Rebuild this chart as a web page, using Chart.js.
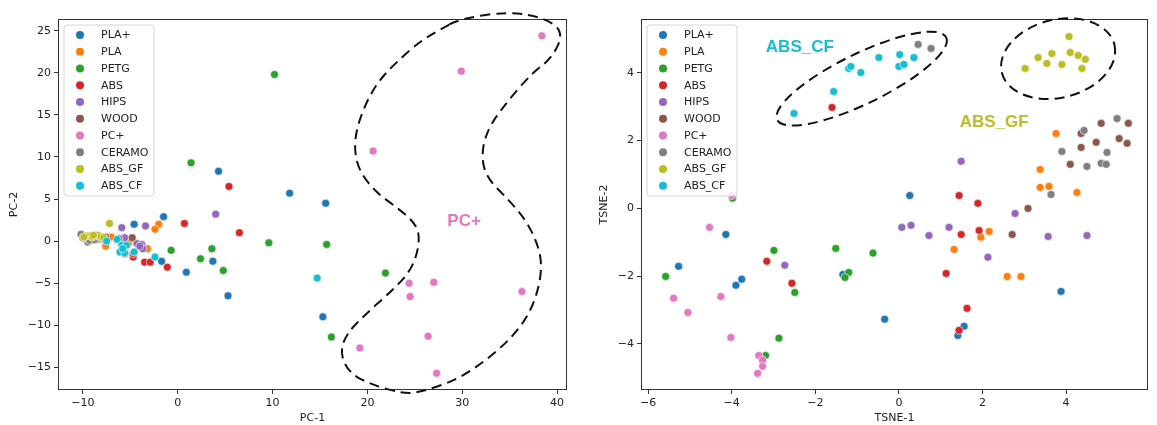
<!DOCTYPE html>
<html>
<head>
<meta charset="utf-8">
<script src="https://cdn.jsdelivr.net/npm/chart.js@4.4.0/dist/chart.umd.min.js"></script>
<style>
  body { margin: 0; background: #fff; }
  #wrap { position: relative; width: 1157px; height: 425px; }
  .box { position: absolute; top: 0; height: 425px; }
</style>
</head>
<body>
<div id="wrap">
  <div class="box" style="left:0;width:575px"><canvas id="pcaChart"></canvas></div>
  <div class="box" style="left:580px;width:577px"><canvas id="tsneChart"></canvas></div>
</div>
<script>
const materials = ['PLA+', 'PLA', 'PETG', 'ABS', 'HIPS', 'WOOD', 'PC+', 'CERAMO', 'ABS_GF', 'ABS_CF'];
const colors = ['#1f77b4', '#ff7f0e', '#2ca02c', '#d62728', '#9467bd', '#8c564b', '#e377c2', '#7f7f7f', '#bcbd22', '#17becf'];

const pcaTicksX = [-10, 0, 10, 20, 30, 40];
const pcaTicksY = [-15, -10, -5, 0, 5, 10, 15, 20, 25];
const tsneTicksX = [-6, -4, -2, 0, 2, 4];
const tsneTicksY = [-4, -2, 0, 2, 4];

// PCA scores [PC-1, PC-2]
const pcaPLAplus = [[4.3, 8.3], [11.8, 5.7], [15.6, 4.5], [15.3, -9.0], [-1.5, 2.9], [-4.6, 2.0], [-1.7, -2.4], [0.9, -3.7], [3.7, -2.4], [5.3, -6.5]];
const pcaPLA = [[-2.0, 2.0], [-2.4, 1.4], [-7.6, -0.6], [-3.2, -0.9], [-7.0, 0.5], [-9.3, 0.3], [-8.6, 0.4], [-5.2, -0.3], [-9.9, 0.6], [-8.0, 0.2]];
const pcaPETG = [[10.2, 19.8], [1.4, 9.3], [-0.7, -1.1], [3.6, -0.9], [2.4, -2.1], [4.8, -3.5], [9.6, -0.2], [15.7, -0.4], [21.9, -3.8], [16.2, -11.4]];
const pcaABS = [[5.4, 6.5], [0.7, 2.1], [6.5, 1.0], [-1.1, -3.1], [-3.5, -2.5], [-2.9, -2.5], [-4.7, -1.9], [-5.6, -1.5], [-4.7, -1.5], [-9.5, 0.3]];
const pcaHIPS = [[4.0, 3.2], [-5.9, 1.6], [-3.4, 1.8], [-5.6, 0.4], [-4.3, -0.3], [-3.8, -0.4], [-3.7, -0.9], [-4.0, -0.6], [-9.0, 0.3], [-6.2, 0.3]];
const pcaWOOD = [[-4.8, 0.4], [-10.0, 0.5], [-9.3, 0.3], [-9.7, 0.6], [-8.8, 0.5], [-8.2, 0.4], [-7.6, 0.5], [-9.1, 0.2], [-8.5, 0.3], [-9.5, 0.4]];
const pcaPCplus = [[38.4, 24.4], [29.9, 20.2], [20.6, 10.7], [24.4, -5.0], [27.0, -4.9], [24.5, -6.6], [36.3, -6.0], [26.4, -11.3], [19.2, -12.7], [27.3, -15.7]];
const pcaCERAMO = [[-10.2, 0.8], [-9.5, -0.1], [-9.8, 0.3], [-9.0, 0.1], [-8.5, 0.2], [-8.0, 0.3], [-9.3, 0.1], [-8.8, 0.2], [-10.0, 0.4], [-7.7, 0.2]];
const pcaABSGF = [[-7.2, 2.1], [-9.6, 0.6], [-9.3, 0.6], [-9.0, 0.5], [-8.7, 0.6], [-8.4, 0.7], [-8.1, 0.5], [-7.8, 0.4], [-9.9, 0.5], [-8.9, 0.7]];
const pcaABSCF = [[14.7, -4.4], [-2.4, -1.9], [-7.5, 0.0], [-6.4, 0.2], [-5.9, -0.5], [-5.4, -0.5], [-6.1, -1.3], [-5.6, -1.4], [-4.6, -1.3], [-5.8, -0.9]];

// t-SNE embedding [TSNE-1, TSNE-2]
const tsnePLAplus = [[0.26, 0.38], [-0.34, -3.27], [1.56, -3.48], [1.41, -3.75], [3.88, -2.45], [-4.14, -0.77], [-5.27, -1.71], [-3.90, -2.27], [-3.76, -2.09], [-1.34, -1.95]];
const tsnePLA = [[3.76, 2.21], [3.38, 1.15], [3.38, 0.62], [3.59, 0.65], [4.26, 0.47], [2.16, -0.68], [1.96, -0.85], [1.32, -1.21], [2.59, -2.01], [2.92, -2.01]];
const tsnePETG = [[-3.98, 0.30], [-5.58, -2.01], [-2.99, -1.24], [-2.49, -2.48], [-2.87, -3.83], [-3.19, -4.34], [-1.51, -1.18], [-1.20, -1.89], [-1.29, -2.04], [-0.62, -1.32]];
const tsneABS = [[-1.60, 2.98], [1.44, 0.38], [1.89, 0.15], [1.49, -0.77], [1.92, -0.65], [1.13, -1.92], [1.63, -2.95], [1.44, -3.60], [-3.16, -1.56], [-2.56, -2.21]];
const tsneHIPS = [[1.49, 1.39], [2.78, -0.15], [0.07, -0.56], [0.29, -0.50], [0.72, -0.80], [1.20, -0.56], [3.57, -0.83], [4.50, -0.80], [2.13, -1.44], [-2.73, -1.68]];
const tsneWOOD = [[4.84, 2.51], [5.49, 2.51], [4.36, 2.21], [4.72, 1.95], [5.27, 2.06], [5.46, 1.92], [4.36, 1.80], [4.10, 1.30], [3.09, 0.0], [2.71, -0.77]];
const tsnePCplus = [[-4.0, 0.38], [-4.53, -0.56], [-5.39, -2.65], [-5.05, -3.07], [-4.26, -2.60], [-4.02, -3.81], [-3.35, -4.34], [-3.26, -4.48], [-3.26, -4.66], [-3.38, -4.87]];
const tsneCERAMO = [[0.46, 4.84], [0.77, 4.72], [4.43, 2.30], [5.22, 2.65], [3.90, 1.68], [4.98, 1.65], [4.50, 1.24], [4.84, 1.33], [4.96, 1.30], [3.64, 0.41]];
const tsneABSGF = [[3.02, 4.13], [3.33, 4.45], [3.54, 4.28], [3.66, 4.57], [3.90, 4.25], [4.07, 5.07], [4.10, 4.60], [4.29, 4.51], [4.46, 4.40], [4.38, 4.13]];
const tsneABSCF = [[-2.51, 2.80], [-1.56, 3.45], [-1.20, 4.13], [-1.15, 4.19], [-0.91, 4.01], [-0.48, 4.45], [0.02, 4.54], [0.0, 4.19], [0.12, 4.25], [0.36, 4.45]];

// dashed outline round the PC+ group (data coords)
const pcOutline = [[29.7, 26.4], [34.9, 27.3], [38.8, 26.5], [40.7, 24.8], [39.5, 21.8], [37.4, 20.0], [34.9, 16.8], [32.8, 13.6], [32.0, 10.5], [32.5, 7.6],
  [34.9, 4.9], [36.7, 2.5], [37.9, -0.2], [38.4, -2.6], [38.1, -5.5], [37.1, -8.6], [35.3, -11.4], [32.5, -14.2], [29.4, -16.5], [25.5, -18.0],
  [23.7, -18.1], [20.5, -17.1], [18.1, -15.7], [17.1, -13.3], [17.8, -11.0], [19.9, -8.6], [22.3, -6.2], [24.4, -3.8], [25.3, -1.4], [25.5, 1.0],
  [24.7, 2.5], [23.1, 4.0], [20.9, 5.8], [19.2, 8.2], [18.6, 10.8], [18.9, 13.6], [20.0, 16.8], [21.3, 19.2], [23.1, 21.3], [25.5, 23.7], [27.6, 25.1]];

const FONT = 'DejaVu Sans';
const minus = v => String(v).replace('-', '\u2212');

function makeDatasets(series) {
  return series.map((pts, i) => ({
    label: materials[i],
    data: pts.map(p => ({ x: p[0], y: p[1] })),
    backgroundColor: colors[i],
    borderColor: '#ffffff',
    borderWidth: 0.6,
    pointRadius: 4,
    pointHoverRadius: 4,
    order: series.length - i
  }));
}

function axis(title, ticks, min, max, size, titlePad, isY) {
  return {
    type: 'linear', min: min, max: max,
    afterBuildTicks: a => { a.ticks = ticks.map(v => ({ value: v })); },
    afterFit: a => { if (isY) a.width = size; else a.height = size; },
    grid: { display: true, drawOnChartArea: false, drawTicks: true, tickLength: 4, tickColor: '#333', color: '#333' },
    border: { display: false },
    ticks: { color: '#222', font: { family: FONT, size: 11 }, padding: 3, callback: v => minus(v) },
    title: { display: true, text: title, color: '#222', font: { family: FONT, size: 11 }, padding: { top: titlePad, bottom: 0 } }
  };
}

// frame + legend drawn inside plot area
const framePlugin = {
  id: 'frameLegend',
  afterDraw(chart) {
    const ctx = chart.ctx, a = chart.chartArea;
    ctx.save();
    ctx.strokeStyle = '#333';
    ctx.lineWidth = 1;
    ctx.strokeRect(a.left + 0.5, a.top + 0.5, a.right - a.left - 1, a.bottom - a.top - 1);

    const bx = a.left + 6, by = a.top + 6, bw = 90, bh = 171, r = 3;
    ctx.beginPath();
    ctx.moveTo(bx + r, by);
    ctx.arcTo(bx + bw, by, bx + bw, by + bh, r);
    ctx.arcTo(bx + bw, by + bh, bx, by + bh, r);
    ctx.arcTo(bx, by + bh, bx, by, r);
    ctx.arcTo(bx, by, bx + bw, by, r);
    ctx.closePath();
    ctx.fillStyle = 'rgba(255,255,255,0.8)';
    ctx.fill();
    ctx.strokeStyle = '#d6d6d6';
    ctx.stroke();

    ctx.font = '11px "' + FONT + '"';
    ctx.textBaseline = 'middle';
    ctx.textAlign = 'left';
    chart.data.datasets.forEach((ds, i) => {
      const y = by + 10 + i * 16.75;
      ctx.beginPath();
      ctx.arc(bx + 16, y, 4, 0, Math.PI * 2);
      ctx.fillStyle = ds.backgroundColor;
      ctx.fill();
      ctx.fillStyle = '#222';
      ctx.fillText(ds.label, bx + 37, y + 0.5);
    });
    ctx.restore();
  }
};

function dashed(ctx) {
  ctx.strokeStyle = '#111';
  ctx.lineWidth = 2;
  ctx.setLineDash([10, 6]);
}

function label(ctx, text, x, y, color) {
  ctx.setLineDash([]);
  ctx.font = 'bold 17px "Liberation Sans"';
  ctx.fillStyle = color;
  ctx.textAlign = 'center';
  ctx.textBaseline = 'middle';
  ctx.fillText(text, x, y);
}

const pcaNotes = {
  id: 'pcaNotes',
  afterDraw(chart) {
    const ctx = chart.ctx, sx = chart.scales.x, sy = chart.scales.y;
    const pts = pcOutline.map(p => [sx.getPixelForValue(p[0]), sy.getPixelForValue(p[1])]);
    const n = pts.length;
    const mid = (p, q) => [(p[0] + q[0]) / 2, (p[1] + q[1]) / 2];
    ctx.save();
    dashed(ctx);
    ctx.beginPath();
    let m = mid(pts[n - 1], pts[0]);
    ctx.moveTo(m[0], m[1]);
    for (let i = 0; i < n; i++) {
      const nm = mid(pts[i], pts[(i + 1) % n]);
      ctx.quadraticCurveTo(pts[i][0], pts[i][1], nm[0], nm[1]);
    }
    ctx.closePath();
    ctx.stroke();
    label(ctx, 'PC+', sx.getPixelForValue(30.2), sy.getPixelForValue(2.3), colors[6]);
    ctx.restore();
  }
};

const tsneNotes = {
  id: 'tsneNotes',
  afterDraw(chart) {
    const ctx = chart.ctx, sx = chart.scales.x, sy = chart.scales.y;
    ctx.save();
    dashed(ctx);
    ctx.beginPath();
    ctx.ellipse(sx.getPixelForValue(-0.89), sy.getPixelForValue(3.83), 94, 25, -26 * Math.PI / 180, 0, Math.PI * 2);
    ctx.stroke();
    ctx.beginPath();
    ctx.ellipse(sx.getPixelForValue(3.81), sy.getPixelForValue(4.42), 58, 39, -14 * Math.PI / 180, 0, Math.PI * 2);
    ctx.stroke();
    label(ctx, 'ABS_CF', sx.getPixelForValue(-2.37), sy.getPixelForValue(4.75), colors[9]);
    label(ctx, 'ABS_GF', sx.getPixelForValue(2.28), sy.getPixelForValue(2.54), colors[8]);
    ctx.restore();
  }
};

function baseOptions(xAxis, yAxis, rightPad) {
  return {
    responsive: true,
    maintainAspectRatio: false,
    animation: false,
    layout: { padding: { top: 19, right: rightPad, bottom: 0, left: 0 } },
    plugins: { legend: { display: false }, tooltip: { enabled: false } },
    scales: { x: xAxis, y: yAxis }
  };
}

new Chart(document.getElementById('pcaChart'), {
  type: 'scatter',
  data: { datasets: makeDatasets([pcaPLAplus, pcaPLA, pcaPETG, pcaABS, pcaHIPS, pcaWOOD, pcaPCplus, pcaCERAMO, pcaABSGF, pcaABSCF]) },
  options: baseOptions(
    axis('PC-1', pcaTicksX, -12.63, 41.05, 35, 0, false),
    axis('PC-2', pcaTicksY, -17.7, 26.4, 58, 8, true), 8),
  plugins: [framePlugin, pcaNotes]
});

new Chart(document.getElementById('tsneChart'), {
  type: 'scatter',
  data: { datasets: makeDatasets([tsnePLAplus, tsnePLA, tsnePETG, tsneABS, tsneHIPS, tsneWOOD, tsnePCplus, tsneCERAMO, tsneABSGF, tsneABSCF]) },
  options: baseOptions(
    axis('TSNE-1', tsneTicksX, -6.17, 5.96, 35, 0, false),
    axis('TSNE-2', tsneTicksY, -5.36, 5.59, 61, 18, true), 9),
  plugins: [framePlugin, tsneNotes]
});
</script>
</body>
</html>
